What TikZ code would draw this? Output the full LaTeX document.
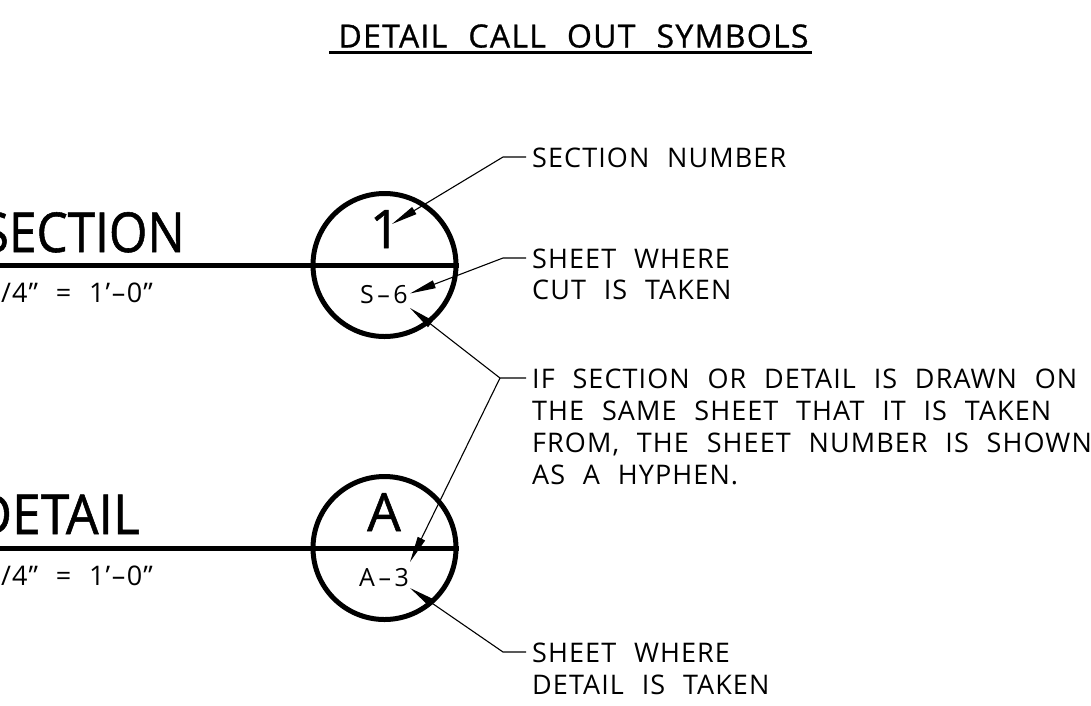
\documentclass[tikz,border=0pt]{standalone}
\usepackage{fontspec}
\setmainfont{Open Sans}[WordSpace=2.2,LetterSpace=4]
\newfontfamily\heavyfont{Open Sans}[FakeBold=1]
\newfontfamily\titlefont{Open Sans}[WordSpace=2.2,LetterSpace=4,FakeBold=0.8]
\usepackage{tikz}
\usetikzlibrary{arrows.meta}

\tikzset{
    callout/.style={line width=1.1pt, -{Triangle[length=26pt,width=8pt]}},
    heavy/.style={line width=5pt},
    note/.style={anchor=base west, inner sep=0pt, font=\fontsize{27}{27}\selectfont},
    bigtitle/.style={anchor=base east, inner sep=0pt, font=\fontsize{55}{55}\heavyfont},
    symtext/.style={anchor=base, inner sep=0pt, font=\fontsize{53}{53}\heavyfont},
    sheetno/.style={anchor=base, inner sep=0pt, font=\fontsize{25}{25}\selectfont},
    symbol/.style={circle, draw, heavy, minimum size=143pt, inner sep=0pt},
}

\begin{document}
\begin{tikzpicture}[x=1pt, y=-1pt]
    \clip (0,0) rectangle (1091,705);
    \node[note, anchor=base, font=\fontsize{32}{32}\titlefont] (title) at (573.5,47.5) {DETAIL CALL OUT SYMBOLS};
    \coordinate (ulleft) at (329,52);
    \coordinate (ulright) at (812,52);
    \draw[line width=3pt] (ulleft) -- (ulright);

    % section symbol
    \node[symbol] (seccircle) at (384.5,265) {};
    \coordinate (secleft) at (-5,265);
    \draw[heavy] (secleft) -- (seccircle.east);
    \node[bigtitle] (sectitle) at (185,252) {\scalebox{.9}[1]{SECTION}};
    \node[note, anchor=base east] (secscale) at (153,302) {1/4” = 1’\kern1.5pt--\kern1.5pt0”};
    \node[symtext] (secnum) at (385,248) {1};
    \node[sheetno] (secsheet) at (384,303) {S\kern3.5pt--\kern3.5pt6};

    % detail symbol
    \node[symbol] (detcircle) at (384.5,548) {};
    \coordinate (detleft) at (-5,548);
    \draw[heavy] (detleft) -- (detcircle.east);
    \node[bigtitle] (dettitle) at (140,534) {\scalebox{.94}[1]{DETAIL}};
    \node[note, anchor=base east] (detscale) at (153,585) {1/4” = 1’\kern1.5pt--\kern1.5pt0”};
    \node[symtext] (detletter) at (384,531) {A};
    \node[sheetno] (detsheet) at (384,586.5) {A\kern3.5pt--\kern3.5pt3};

    % notes
    \node[note] (numtext) at (532,167) {SECTION NUMBER};
    \node[note] (cuttext) at (532,268) {SHEET WHERE};
    \node[note] (cutline) at (532,299) {CUT IS TAKEN};
    \node[note] (iftext) at (532,388) {IF SECTION OR DETAIL IS DRAWN ON};
    \node[note] (iftextb) at (532,420) {THE SAME SHEET THAT IT IS TAKEN};
    \node[note] (iftextc) at (532,452) {FROM, THE SHEET NUMBER IS SHOWN};
    \node[note] (iftextd) at (532,484) {AS A HYPHEN.};
    \node[note] (dettext) at (532,662) {SHEET WHERE};
    \node[note] (dettextb) at (532,694) {DETAIL IS TAKEN};

    \coordinate (numstart) at (526,157);
    \coordinate (numbend) at (503,157);
    \coordinate (numtip) at (392,224);
    \coordinate (cutstart) at (526,258);
    \coordinate (cutbend) at (503,258);
    \coordinate (cuttip) at (410,293.5);
    \coordinate (ifstart) at (526,378);
    \coordinate (ifbend) at (500,378);
    \coordinate (iftip) at (410,308);
    \coordinate (iftipb) at (410,562);
    \coordinate (detstart) at (526,652);
    \coordinate (detbend) at (503,652);
    \coordinate (dettip) at (410,588);

    \draw[callout] (numstart) -- (numbend) -- (numtip);
    \draw[callout] (cutstart) -- (cutbend) -- (cuttip);
    \draw[callout] (ifstart) -- (ifbend) -- (iftip);
    \draw[callout] (ifbend) -- (iftipb);
    \draw[callout] (detstart) -- (detbend) -- (dettip);
\end{tikzpicture}
\end{document}
